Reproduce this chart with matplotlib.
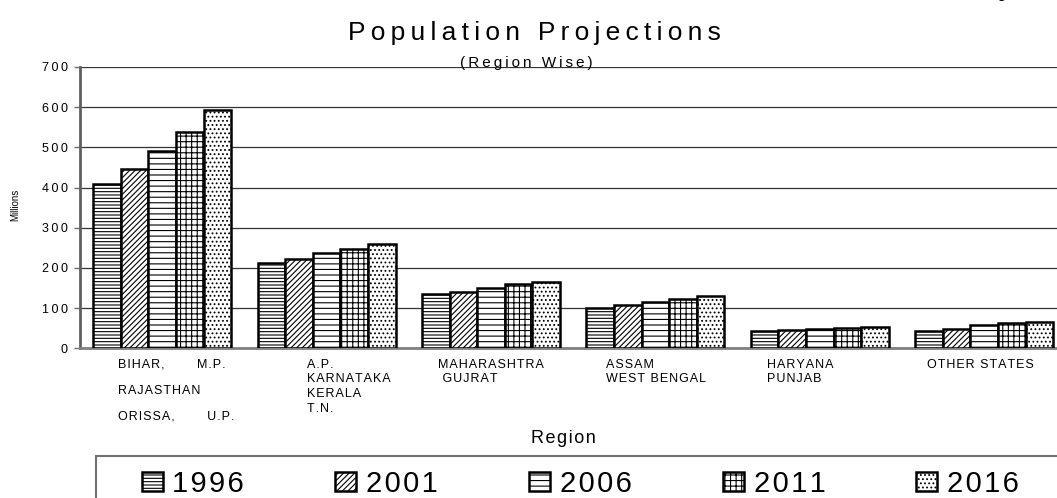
import numpy as np
import matplotlib
matplotlib.use("Agg")
import matplotlib.pyplot as plt
from matplotlib.patches import Rectangle

plt.rcParams['font.family'] = ['Liberation Sans', 'DejaVu Sans']
plt.rcParams['hatch.linewidth'] = 0.8

# data (millions)
regions = [
    "BIHAR,       M.P.\nRAJASTHAN\nORISSA,       U.P.",
    "A.P.\nKARNATAKA\nKERALA\nT.N.",
    "MAHARASHTRA\n GUJRAT",
    "ASSAM\nWEST BENGAL",
    "HARYANA\nPUNJAB",
    "OTHER STATES",
]
years = ["1996", "2001", "2006", "2011", "2016"]
y1996 = [408, 213, 134, 100, 43, 43]
y2001 = [447, 222, 141, 108, 45, 49]
y2006 = [491, 237, 151, 114, 48, 57]
y2011 = [539, 247, 159, 122, 51, 62]
y2016 = [593, 259, 166, 130, 54, 65]
series = [y1996, y2001, y2006, y2011, y2016]
yticks = [0, 100, 200, 300, 400, 500, 600, 700]

hatches = ['-----', '//////', '---', '+++', '....']
label_dx = [-0.27, -0.12, -0.32, -0.30, -0.32, -0.35]

THIN = '\u2009'
HAIR = '\u200a'


def spaced(s, sep=HAIR):
    # mimic the wide letter spacing of the original
    return '\n'.join(sep.join(line) for line in s.split('\n'))


W, H = 1057, 498
fig = plt.figure(figsize=(W / 100, H / 100), dpi=100)
ax = fig.add_axes([80 / W, 1 - 348.3 / H, 986.4 / W, 281.3 / H])

x = np.arange(len(regions))
bw = 0.168
bars = []
for k, (vals, h) in enumerate(zip(series, hatches)):
    b = ax.bar(x + (k - 2) * bw, vals, bw, facecolor='white', edgecolor='black',
               linewidth=1.8, hatch=h, label=spaced(years[k]), zorder=3)
    bars.append(b)

ax.set_xlim(-0.5, 5.5)
ax.set_ylim(0, 700)
ax.set_yticks(yticks)
ax.set_yticklabels([spaced(str(v), THIN) for v in yticks], fontsize=9)
ax.tick_params(axis='y', length=4, width=1, color='#707070', pad=5)
ax.tick_params(axis='x', length=0, labelbottom=False)
ax.yaxis.grid(True, color='#333333', linewidth=0.9)
ax.set_axisbelow(True)
for s in ['top', 'right']:
    ax.spines[s].set_visible(False)
ax.spines['left'].set_color('#606060')
ax.spines['left'].set_linewidth(2)
ax.spines['bottom'].set_color('#808080')
ax.spines['bottom'].set_linewidth(2)

# region labels under each group
tr = ax.get_xaxis_transform()
for i, lab in enumerate(regions):
    ls = 2.55 if i == 0 else 1.3
    ax.text(i + label_dx[i], -0.037, spaced(lab), transform=tr, ha='left', va='top',
            fontsize=9, linespacing=ls)

ax.set_xlabel(spaced("Region"), fontsize=13)
ax.xaxis.set_label_coords(0.49, -0.29)
ax.set_ylabel("Millions", fontsize=7)
ax.yaxis.set_label_coords(-0.061, 0.509)

fig.text(534 / W, 1 - 40 / H, spaced("Population Projections", THIN), fontsize=19,
         ha='center', va='baseline')
fig.text(526.5 / W, 1 - 67 / H, spaced("(Region Wise)", THIN), fontsize=11,
         ha='center', va='baseline', zorder=5)
fig.text(985 / W, 1 + 2 / H, "Figure 3", fontsize=11, ha='left', va='baseline')

# legend box
fig.add_artist(Rectangle((96 / W, -0.1), 1.0, 0.1 + 1 - 456 / H, transform=fig.transFigure,
                         facecolor='none', edgecolor='#707070', linewidth=1.5))
fig.legend(handles=bars, loc='center left', bbox_to_anchor=(127 / W, 1 - 484 / H),
           ncol=5, frameon=False, fontsize=21, borderpad=0, handlelength=0.72,
           handleheight=0.62, handletextpad=0.34, columnspacing=3.12)

fig.savefig("out.png", dpi=100)
